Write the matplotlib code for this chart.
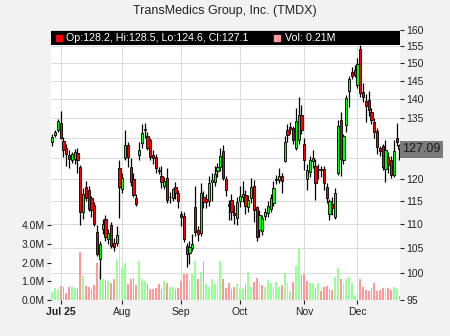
import numpy as np
import pandas as pd
import matplotlib
matplotlib.use("Agg")
import matplotlib.pyplot as plt
from matplotlib.patches import Rectangle
from matplotlib.ticker import FixedLocator, FuncFormatter, NullLocator
from matplotlib.transforms import blended_transform_factory

plt.rcParams["font.family"] = ["Liberation Sans", "DejaVu Sans"]
plt.rcParams["font.size"] = 7.5

# ---------------- DATA ----------------
title = "TransMedics Group, Inc. (TMDX)"
holidays = ["2025-07-04", "2025-09-01", "2025-11-27"]
dates = pd.bdate_range("2025-06-26", "2025-12-22")
dates = dates[~dates.isin(pd.to_datetime(holidays))]

open_ = [
    128.8, 130.6, 132.0, 133.7, 129.2, 127.4, 125.8, 124.6, 124.8, 126.2,
    122.8, 112.5, 118.1, 117.5, 115.6, 114.1, 108.4, 102.8, 109.0, 111.1,
    106.9, 109.8, 106.0, 106.0, 122.6, 117.8, 125.0, 128.2, 122.8, 120.1,
    115.6, 125.6, 128.6, 132.0, 130.5, 129.3, 125.8, 125.1, 122.0, 120.6,
    118.4, 120.3, 115.8, 115.6, 118.2, 116.7, 112.1, 111.8, 105.4, 104.0,
    105.0, 113.6, 108.8, 108.2, 115.8, 115.5, 115.0, 119.2, 119.4, 121.9,
    122.8, 126.7, 120.1, 114.3, 115.2, 112.4, 111.3, 115.0, 115.8, 116.4,
    113.7, 115.6, 118.5, 113.6, 108.8, 108.6, 111.7, 112.4, 113.3, 114.5,
    119.7, 119.8, 120.8, 124.3, 131.9, 132.8, 132.3, 127.3, 129.3, 135.9,
    128.3, 120.1, 121.7, 124.2, 123.0, 122.3, 122.4, 122.3, 118.2, 112.1,
    114.4, 111.6, 121.5, 134.6, 124.4, 133.1, 142.3, 147.5, 148.0, 143.8,
    154.1, 142.0, 139.6, 139.8, 136.7, 134.0, 131.6, 127.4, 127.8, 122.3,
    125.3, 124.5, 121.0, 129.9, 128.2,
]
high_ = [
    130.8, 131.8, 134.8, 136.8, 130.2, 128.4, 126.8, 126.5, 127.2, 127.5,
    123.2, 118.0, 119.5, 118.5, 116.2, 114.8, 109.8, 106.5, 111.0, 112.0,
    109.0, 110.5, 107.0, 109.5, 124.6, 121.5, 131.9, 129.0, 125.0, 121.5,
    116.5, 129.0, 133.5, 133.8, 131.5, 130.0, 127.0, 126.0, 122.8, 123.0,
    120.5, 122.5, 117.0, 118.0, 119.3, 117.5, 112.8, 112.5, 106.0, 106.5,
    108.0, 118.5, 109.5, 119.0, 117.2, 116.5, 120.8, 121.5, 123.0, 123.8,
    127.3, 128.1, 120.8, 115.3, 116.5, 114.1, 115.8, 118.3, 119.5, 117.5,
    116.3, 120.2, 119.8, 114.0, 113.0, 112.0, 113.5, 115.0, 116.5, 119.5,
    121.0, 122.5, 121.4, 130.3, 133.5, 134.0, 133.0, 137.5, 140.7, 138.4,
    130.0, 123.5, 125.5, 127.0, 124.7, 123.5, 123.0, 123.0, 119.0, 115.5,
    116.0, 118.0, 134.5, 136.5, 131.0, 141.0, 146.5, 149.0, 149.5, 151.5,
    155.3, 144.5, 141.5, 142.1, 137.5, 135.0, 132.5, 128.0, 128.5, 129.5,
    126.5, 125.5, 129.5, 133.7, 128.5,
]
low_ = [
    127.8, 130.2, 131.5, 129.6, 125.3, 123.0, 122.5, 123.8, 123.5, 121.5,
    109.8, 111.0, 115.0, 112.8, 111.5, 109.5, 103.5, 99.0, 108.0, 106.5,
    105.8, 105.0, 104.5, 105.5, 111.3, 116.8, 124.5, 122.8, 118.5, 116.0,
    114.0, 124.5, 127.5, 129.8, 127.0, 124.5, 123.5, 121.5, 121.2, 118.0,
    117.8, 114.5, 114.5, 115.0, 115.5, 113.5, 109.5, 106.2, 101.3, 101.8,
    104.5, 107.5, 106.5, 107.5, 113.5, 113.5, 113.8, 115.0, 118.4, 120.5,
    121.8, 119.8, 116.1, 110.9, 110.9, 110.0, 109.9, 113.6, 114.8, 112.2,
    112.5, 114.6, 110.5, 106.4, 107.3, 107.8, 110.8, 111.5, 112.5, 113.8,
    118.8, 119.0, 116.8, 124.0, 129.0, 131.0, 128.5, 127.0, 128.5, 131.0,
    122.0, 117.5, 120.5, 122.5, 115.3, 120.0, 120.5, 117.5, 114.5, 110.9,
    112.0, 111.0, 121.0, 120.6, 123.5, 131.5, 138.0, 145.5, 146.0, 143.0,
    140.5, 139.2, 134.0, 135.5, 133.5, 130.0, 126.0, 125.5, 122.0, 119.4,
    121.5, 120.2, 120.5, 128.0, 124.6,
]
close_ = [
    130.1, 131.3, 134.1, 130.0, 126.9, 125.9, 124.8, 125.9, 126.4, 124.4,
    112.5, 116.6, 115.6, 113.3, 113.0, 110.0, 103.9, 105.8, 110.1, 107.2,
    108.1, 105.4, 105.3, 107.7, 118.2, 120.3, 128.2, 125.1, 119.2, 116.3,
    114.4, 126.9, 131.1, 132.2, 127.5, 125.1, 125.0, 122.5, 121.9, 119.2,
    119.6, 115.2, 115.9, 117.6, 116.9, 115.0, 111.5, 106.8, 103.8, 105.3,
    105.8, 108.4, 107.9, 116.9, 114.7, 114.8, 119.1, 119.8, 121.1, 122.8,
    125.4, 120.3, 117.5, 114.0, 112.5, 112.0, 114.8, 116.2, 116.5, 113.9,
    115.2, 118.1, 113.1, 107.3, 112.0, 111.4, 112.6, 114.0, 115.7, 118.0,
    120.0, 120.6, 119.6, 128.8, 130.7, 132.1, 129.4, 134.3, 135.9, 131.9,
    124.5, 122.1, 124.5, 124.9, 119.1, 122.2, 122.0, 119.0, 115.6, 114.9,
    113.4, 116.9, 133.0, 124.7, 130.4, 140.2, 145.6, 146.3, 146.8, 149.7,
    141.6, 140.6, 138.2, 137.1, 134.5, 131.4, 127.6, 126.6, 122.9, 127.0,
    123.3, 121.0, 126.7, 128.9, 127.09,
]
volume_m = [
    0.41, 0.63, 0.57, 0.75, 0.68, 0.36, 0.68, 0.75, 0.63, 0.63,
    2.58, 1.28, 0.75, 0.71, 0.60, 0.80, 2.00, 1.69, 1.12, 1.07,
    1.02, 0.93, 1.12, 2.19, 3.70, 1.75, 2.00, 0.86, 1.10, 1.16,
    0.80, 2.09, 1.10, 1.00, 0.86, 0.57, 0.57, 0.62, 0.86, 0.57,
    1.00, 0.89, 0.68, 0.68, 0.57, 0.62, 1.00, 1.39, 1.39, 1.00,
    1.39, 2.09, 1.12, 1.52, 2.09, 0.86, 0.68, 1.12, 0.86, 1.00,
    2.09, 1.12, 0.62, 0.89, 0.57, 0.71, 0.86, 0.57, 0.57, 0.86,
    1.48, 0.68, 0.98, 1.16, 0.98, 0.80, 0.68, 1.07, 0.89, 0.68,
    0.98, 0.68, 0.80, 1.43, 0.89, 0.50, 0.98, 1.82, 2.76, 1.34,
    1.39, 1.03, 0.93, 0.89, 0.62, 0.93, 0.50, 0.68, 0.75, 0.57,
    0.53, 1.21, 1.73, 1.11, 0.93, 1.11, 1.21, 0.89, 0.27, 0.62,
    1.11, 0.71, 0.53, 0.50, 0.62, 0.89, 0.50, 0.53, 0.62, 0.71,
    0.62, 0.53, 0.68, 0.57, 0.21,
]

price_ticks = list(range(95, 161, 5))
hidden_ticks = [125, 130]      # covered by the last price tag
vol_ticks = [0, 1, 2, 3, 4]

# ---------------- PREP ----------------
o = np.array(open_)
h = np.array(high_)
l = np.array(low_)
c = np.array(close_)
v = np.array(volume_m)
x = np.arange(len(dates))

up = c >= o
vol_up = np.r_[c[0] >= o[0], c[1:] >= c[:-1]]

month_idx = [i for i in range(1, len(dates)) if dates[i].month != dates[i - 1].month]
month_lbl = [dates[i].strftime("%b %y") if k == 0 else dates[i].strftime("%b")
             for k, i in enumerate(month_idx)]

grid_c = "#dcdcdc"
txt_c = "#222222"

# ---------------- PLOT ----------------
fig = plt.figure(figsize=(4.5, 3.36), dpi=100, facecolor="#f2f2f2")
rect = [51 / 450, 36 / 336, 349 / 450, 270 / 336]
axv = fig.add_axes(rect)
ax = fig.add_axes(rect)
axv.set_facecolor("white")
ax.patch.set_visible(False)

xlim = (-0.46, 124.2)

# volume (bottom layer)
axv.bar(x, v, width=0.66, color=np.where(vol_up, "#99ff99", "#ff9999"), zorder=2)
axv.set_xlim(*xlim)
axv.set_ylim(0, 14.44)
axv.set_xticks(month_idx)
axv.tick_params(axis="x", labelbottom=False, length=0)
axv.grid(axis="x", color=grid_c, linewidth=0.8, zorder=0)
axv.set_axisbelow(True)
axv.yaxis.set_major_locator(FixedLocator(vol_ticks))
axv.yaxis.set_major_formatter(FuncFormatter(lambda val, pos: f"{val:.1f}M"))
axv.tick_params(axis="y", length=3, pad=1.5, colors=txt_c, labelsize=7.5)

# horizontal price grid drawn under the volume bars
gtrans = blended_transform_factory(axv.transAxes, ax.transData)
axv.hlines(price_ticks, 0, 1, transform=gtrans, color=grid_c, linewidth=0.8, zorder=1)

# candles
ax.vlines(x, l, h, color="black", linewidth=0.9, zorder=2)
ax.bar(x, np.abs(c - o), bottom=np.minimum(o, c), width=0.8,
       color=np.where(up, "#00ff00", "#ff0000"), edgecolor="black",
       linewidth=0.6, zorder=3)

ax.set_yscale("log")
ax.set_ylim(95, 160)
ax.set_xlim(*xlim)
ax.yaxis.tick_right()
ax.yaxis.set_major_locator(FixedLocator(price_ticks))
ax.yaxis.set_minor_locator(NullLocator())
ax.yaxis.set_major_formatter(
    FuncFormatter(lambda val, pos: "" if round(val) in hidden_ticks else f"{val:.0f}"))
ax.tick_params(axis="y", length=3, pad=1.5, colors=txt_c, labelsize=7.5)
for t, val in zip(ax.yaxis.get_major_ticks(), price_ticks):
    if val in hidden_ticks:
        t.tick2line.set_visible(False)

ax.set_xticks(month_idx)
ax.set_xticklabels(month_lbl)
ax.tick_params(axis="x", length=3, pad=2, colors=txt_c, labelsize=7.5)
ax.get_xticklabels()[0].set_fontweight("bold")

for a in (ax, axv):
    for s in a.spines.values():
        s.set_visible(False)

# legend bar
ax.add_patch(Rectangle((0, 0.944), 1, 0.053, transform=ax.transAxes,
                       facecolor="black", edgecolor="none", zorder=10, clip_on=False))
ax.plot([0.023], [0.970], marker="s", markersize=4, color="#ff0000",
        transform=ax.transAxes, zorder=11, clip_on=False)
ax.text(0.044, 0.970, f"Op:{o[-1]:.1f}, Hi:{h[-1]:.1f}, Lo:{l[-1]:.1f}, Cl:{c[-1]:.1f}",
        transform=ax.transAxes, color="white", va="center", ha="left",
        fontsize=7.7, zorder=11)
ax.plot([0.648], [0.970], marker="s", markersize=4, color="#ff9999",
        transform=ax.transAxes, zorder=11, clip_on=False)
ax.text(0.670, 0.970, f"Vol: {v[-1]:.2f}M", transform=ax.transAxes, color="white",
        va="center", ha="left", fontsize=7.7, zorder=11)

# last price tag
ptrans = blended_transform_factory(ax.transAxes, ax.transData)
ax.text(1.006, c[-1], f"{c[-1]:.2f}", transform=ptrans, va="center", ha="left",
        fontsize=9, color="#1a1a1a", clip_on=False, zorder=12,
        bbox=dict(boxstyle="square,pad=0.18", facecolor="#7a7a7a", edgecolor="none"))

fig.text(0.5, 0.967, title, ha="center", va="center", fontsize=9, color=txt_c)

fig.savefig("out.png", dpi=100, facecolor=fig.get_facecolor())
